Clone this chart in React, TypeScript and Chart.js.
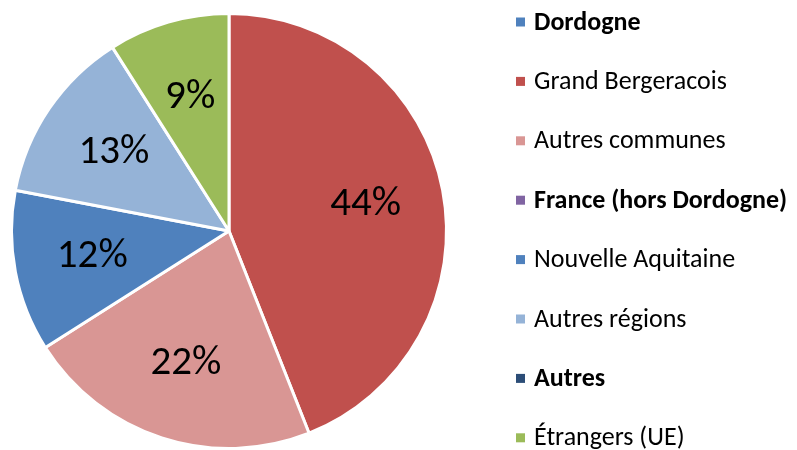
import React, { useEffect, useRef } from "react";
import { Chart, registerables } from "chart.js";

Chart.register(...registerables);

const categories = [
  "Dordogne",
  "Grand Bergeracois",
  "Autres communes",
  "France (hors Dordogne)",
  "Nouvelle Aquitaine",
  "Autres régions",
  "Autres",
  "Étrangers (UE)",
];
const values = [0, 44, 22, 0, 12, 13, 0, 9];
const isHeader = [true, false, false, true, false, false, true, false];
const colors = ["#4F81BD", "#C0504D", "#D99694", "#8064A2", "#4F81BD", "#95B3D7", "#2C4D77", "#9BBB59"];

const FONT = "Carlito, Lato, 'Open Sans', sans-serif";

const labelsPlugin = {
  id: "pctLabels",
  afterDatasetsDraw(chart: any) {
    const ctx = chart.ctx;
    const meta = chart.getDatasetMeta(0);
    const total = values.reduce((a, b) => a + b, 0);
    ctx.save();
    ctx.font = `41px ${FONT}`;
    ctx.fillStyle = "#000";
    ctx.textAlign = "center";
    ctx.textBaseline = "middle";
    meta.data.forEach((arc: any, i: number) => {
      const v = values[i];
      if (!v) return;
      const p = arc.getProps(["x", "y", "startAngle", "endAngle", "outerRadius"], true);
      const mid = (p.startAngle + p.endAngle) / 2;
      const r = p.outerRadius * 0.64;
      const x = p.x + Math.cos(mid) * r;
      const y = p.y + Math.sin(mid) * r;
      ctx.fillText(Math.round((v / total) * 100) + "%", x, y);
    });
    ctx.restore();
  },
};

const legendPlugin = {
  id: "customLegend",
  afterDraw(chart: any) {
    const ctx = chart.ctx;
    ctx.save();
    const x0 = 516;
    const top = 22;
    const step = 59.4;
    categories.forEach((c, i) => {
      const y = top + i * step;
      ctx.fillStyle = colors[i];
      ctx.fillRect(x0, y - 4.5, 9, 9);
      ctx.fillStyle = "#000";
      ctx.font = `${isHeader[i] ? "bold " : ""}26px ${FONT}`;
      ctx.textAlign = "left";
      ctx.textBaseline = "middle";
      ctx.fillText(c, x0 + 18, y + 1);
    });
    ctx.restore();
  },
};

export default function App() {
  const ref = useRef<HTMLCanvasElement>(null);
  useEffect(() => {
    if (!ref.current) return;
    const chart = new Chart(ref.current, {
      type: "pie",
      data: {
        labels: categories,
        datasets: [
          {
            data: values,
            backgroundColor: colors,
            borderColor: "#FFFFFF",
            borderWidth: 3,
          },
        ],
      },
      options: {
        animation: false,
        responsive: false,
        maintainAspectRatio: false,
        layout: { padding: { top: 12, bottom: 0, left: 10, right: 797 - 448 } },
        plugins: {
          legend: { display: false },
          tooltip: { enabled: false },
        },
      },
      plugins: [labelsPlugin, legendPlugin],
    });
    return () => chart.destroy();
  }, []);
  return (
    <div style={{ position: "absolute", left: 0, top: 0, width: 797, height: 450, background: "#fff" }}>
      <canvas ref={ref} width={797} height={450} style={{ width: 797, height: 450 }} />
    </div>
  );
}
